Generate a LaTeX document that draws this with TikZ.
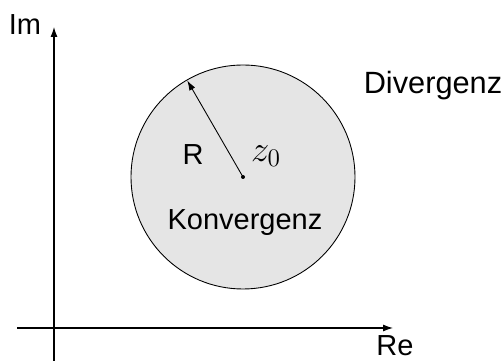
\documentclass[tikz,border=0pt]{standalone}
\usepackage{fontspec}
\setmainfont{Liberation Sans}
\usetikzlibrary{arrows.meta}

\begin{document}
\begin{tikzpicture}[x=0.02cm,y=0.02cm,font=\fontsize{16.5}{20}\selectfont]
\useasboundingbox (0,0) rectangle (504,361);

% ---------------- axes ----------------
\coordinate (reL) at (17,33);
\coordinate (reR) at (393,33);
\coordinate (imB) at (54,0);
\coordinate (imT) at (54,334);
\draw[-{Latex[length=2mm,width=1.4mm]},line width=0.6pt] (reL) -- (reR);
\draw[-{Latex[length=2mm,width=1.4mm]},line width=0.6pt] (imB) -- (imT);
\node[inner sep=1pt] (re) at (395,15) {Re};
\node (im) at (25,336) {Im};

% ---------------- disc of convergence ----------------
\coordinate (z0) at (243,184);
\fill[black!10] (z0) circle (112);
\draw[line width=0.5pt] (z0) circle (112);
\path (z0) ++(120:111.5) coordinate (rim);
\draw[-{Latex[length=2mm,width=1.3mm]},line width=0.5pt] (z0) -- (rim);
\fill (z0) circle (2);

% ---------------- labels ----------------
\node (rad) at (193,206) {R};
\node[font=\fontsize{21}{24}\selectfont] (ctr) at (266,205) {$z_0$};
\node (konv) at (245,138) {Konvergenz};
\node[font=\fontsize{17.5}{20}\selectfont] (div) at (433,275) {Divergenz};
\end{tikzpicture}
\end{document}
